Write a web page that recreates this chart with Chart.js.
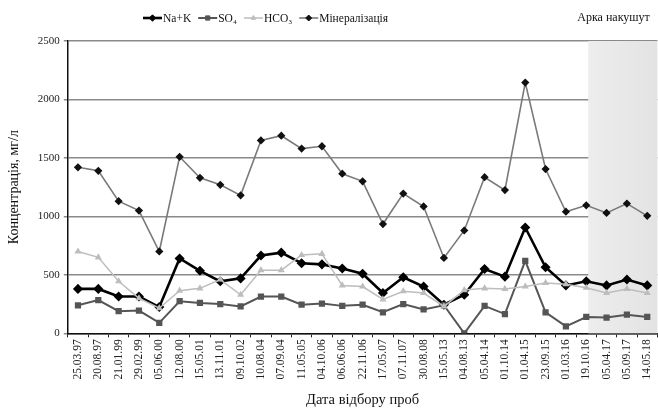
<!DOCTYPE html>
<html><head><meta charset="utf-8">
<script src="https://cdn.jsdelivr.net/npm/chart.js@4.4.1/dist/chart.umd.min.js"></script>
<style>
html,body{margin:0;padding:0;background:#fff;overflow:hidden;width:658px;height:409px}
canvas{display:block}
</style>
</head><body>
<canvas id="c" width="664" height="409"></canvas>
<script>
// Sampling dates
const dates = ['25.03.97','20.08.97','21.01.99','29.02.99','05.06.00','12.08.00','15.05.01','13.11.01','09.10.02',
  '10.08.04','07.09.04','11.05.05','04.10.06','06.06.06','22.11.06','17.05.07','07.11.07','30.08.08','15.05.13',
  '04.08.13','05.04.14','01.10.14','01.04.15','23.09.15','01.03.16','19.10.16','05.04.17','05.09.17','14.05.18'];

// Concentrations, mg/l
const naK = [380,380,315,315,225,640,535,445,470,665,690,600,590,555,510,345,480,400,245,330,550,485,905,565,410,445,410,460,410];
const so4 = [240,285,190,195,90,275,260,250,230,315,315,245,255,235,245,180,250,205,240,0,235,165,620,180,60,140,135,160,140];
const hco3 = [700,650,445,300,215,365,385,460,330,540,540,670,680,410,400,290,360,345,230,370,385,380,400,430,420,390,345,380,345];
const mineral = [1420,1390,1130,1050,700,1510,1330,1270,1180,1650,1690,1580,1600,1365,1300,935,1195,1085,645,880,1335,1225,2145,1405,1040,1095,1030,1110,1005];

const yTicks = [0,500,1000,1500,2000,2500];
const shadeFrom = '19.10.16';
const shadeCaption = 'Арка накушут';

const serif = '"Liberation Serif", "Times New Roman", serif';

// Shaded band behind the lines, from a given sampling date to the right edge
const shadePlugin = {
  id: 'shade',
  beforeDatasetsDraw(chart) {
    const {ctx, chartArea, scales} = chart;
    const x0 = scales.x.getPixelForValue(dates.indexOf(shadeFrom)) + 2;
    const g = ctx.createLinearGradient(x0, 0, chartArea.right, 0);
    g.addColorStop(0, '#ededed');
    g.addColorStop(1, '#e3e3e3');
    ctx.save();
    ctx.fillStyle = g;
    ctx.fillRect(x0, chartArea.top, chartArea.right - x0, chartArea.bottom - chartArea.top);
    ctx.restore();
  },
  afterDraw(chart) {
    const {ctx, scales} = chart;
    const x0 = scales.x.getPixelForValue(dates.indexOf(shadeFrom));
    ctx.save();
    ctx.font = '12px ' + serif;
    ctx.fillStyle = '#111';
    ctx.textBaseline = 'middle';
    ctx.fillText(shadeCaption, x0 - 9, 18);
    ctx.restore();
  }
};

// Legend row: line sample with marker, then the series name
const legendPlugin = {
  id: 'rowLegend',
  afterDraw(chart) {
    const {ctx} = chart;
    const order = [3, 2, 1, 0];
    let x = 143;
    const y = 18;
    ctx.save();
    ctx.font = '11.5px ' + serif;
    ctx.textBaseline = 'middle';
    order.forEach(i => {
      const ds = chart.data.datasets[i];
      ctx.strokeStyle = ds.borderColor;
      ctx.lineWidth = ds.borderWidth;
      ctx.beginPath();
      ctx.moveTo(x, y);
      ctx.lineTo(x + 19, y);
      ctx.stroke();
      ctx.fillStyle = ds.pointBackgroundColor;
      ctx.strokeStyle = ds.pointBorderColor;
      ctx.lineWidth = 1;
      Chart.helpers.drawPoint(ctx, {pointStyle: ds.pointStyle, radius: ds.pointRadius, borderWidth: 1}, x + 9.5, y);
      x += 20;
      ctx.fillStyle = '#111';
      ctx.fillText(ds.label, x, y + 0.5);
      x += ctx.measureText(ds.label).width + 7;
    });
    ctx.restore();
  }
};

new Chart(document.getElementById('c'), {
  type: 'line',
  data: {
    labels: dates,
    datasets: [
      {label: 'Мінералізація', data: mineral, borderColor: '#7a7a7a', borderWidth: 1.6,
       pointStyle: 'rectRot', pointRadius: 3, pointBackgroundColor: '#111', pointBorderColor: '#111'},
      {label: 'HCO\u2083', data: hco3, borderColor: '#bdbdbd', borderWidth: 1.5,
       pointStyle: 'triangle', pointRadius: 2.6, pointBackgroundColor: '#bdbdbd', pointBorderColor: '#bdbdbd'},
      {label: 'SO\u2084', data: so4, borderColor: '#555', borderWidth: 2,
       pointStyle: 'rect', pointRadius: 3, pointBackgroundColor: '#555', pointBorderColor: '#555'},
      {label: 'Na+K', data: naK, borderColor: '#000', borderWidth: 2.6,
       pointStyle: 'rectRot', pointRadius: 3.2, pointBackgroundColor: '#000', pointBorderColor: '#000'}
    ]
  },
  options: {
    responsive: false,
    animation: false,
    devicePixelRatio: 1,
    layout: {padding: {top: 41, left: 6, right: 0, bottom: 0}},
    plugins: {legend: {display: false}, tooltip: {enabled: false}},
    elements: {line: {tension: 0}, point: {borderWidth: 1}},
    scales: {
      x: {
        offset: true,
        grid: {display: true, drawOnChartArea: false, drawTicks: true, tickLength: 4, offset: true, color: '#222'},
        border: {color: '#111', width: 1.5},
        ticks: {minRotation: 90, maxRotation: 90, autoSkip: false, color: '#222', padding: 2,
                font: {family: serif, size: 11.5}},
        title: {display: true, text: 'Дата відбору проб', color: '#111', padding: {top: 10, bottom: 0},
                font: {family: serif, size: 14.5}}
      },
      y: {
        min: 0, max: 2500,
        afterBuildTicks(axis) { axis.ticks = yTicks.map(v => ({value: v})); },
        grid: {color: '#8a8a8a', lineWidth: 1.5, drawTicks: true, tickLength: 4},
        border: {color: '#111', width: 1.5},
        ticks: {color: '#222', padding: 4, font: {family: serif, size: 11},
                callback: v => String(v)},
        title: {display: true, text: 'Концентрація, мг/л', color: '#111', padding: {top: 0, bottom: 11},
                font: {family: serif, size: 14}}
      }
    }
  },
  plugins: [shadePlugin, legendPlugin]
});
</script>
</body></html>
